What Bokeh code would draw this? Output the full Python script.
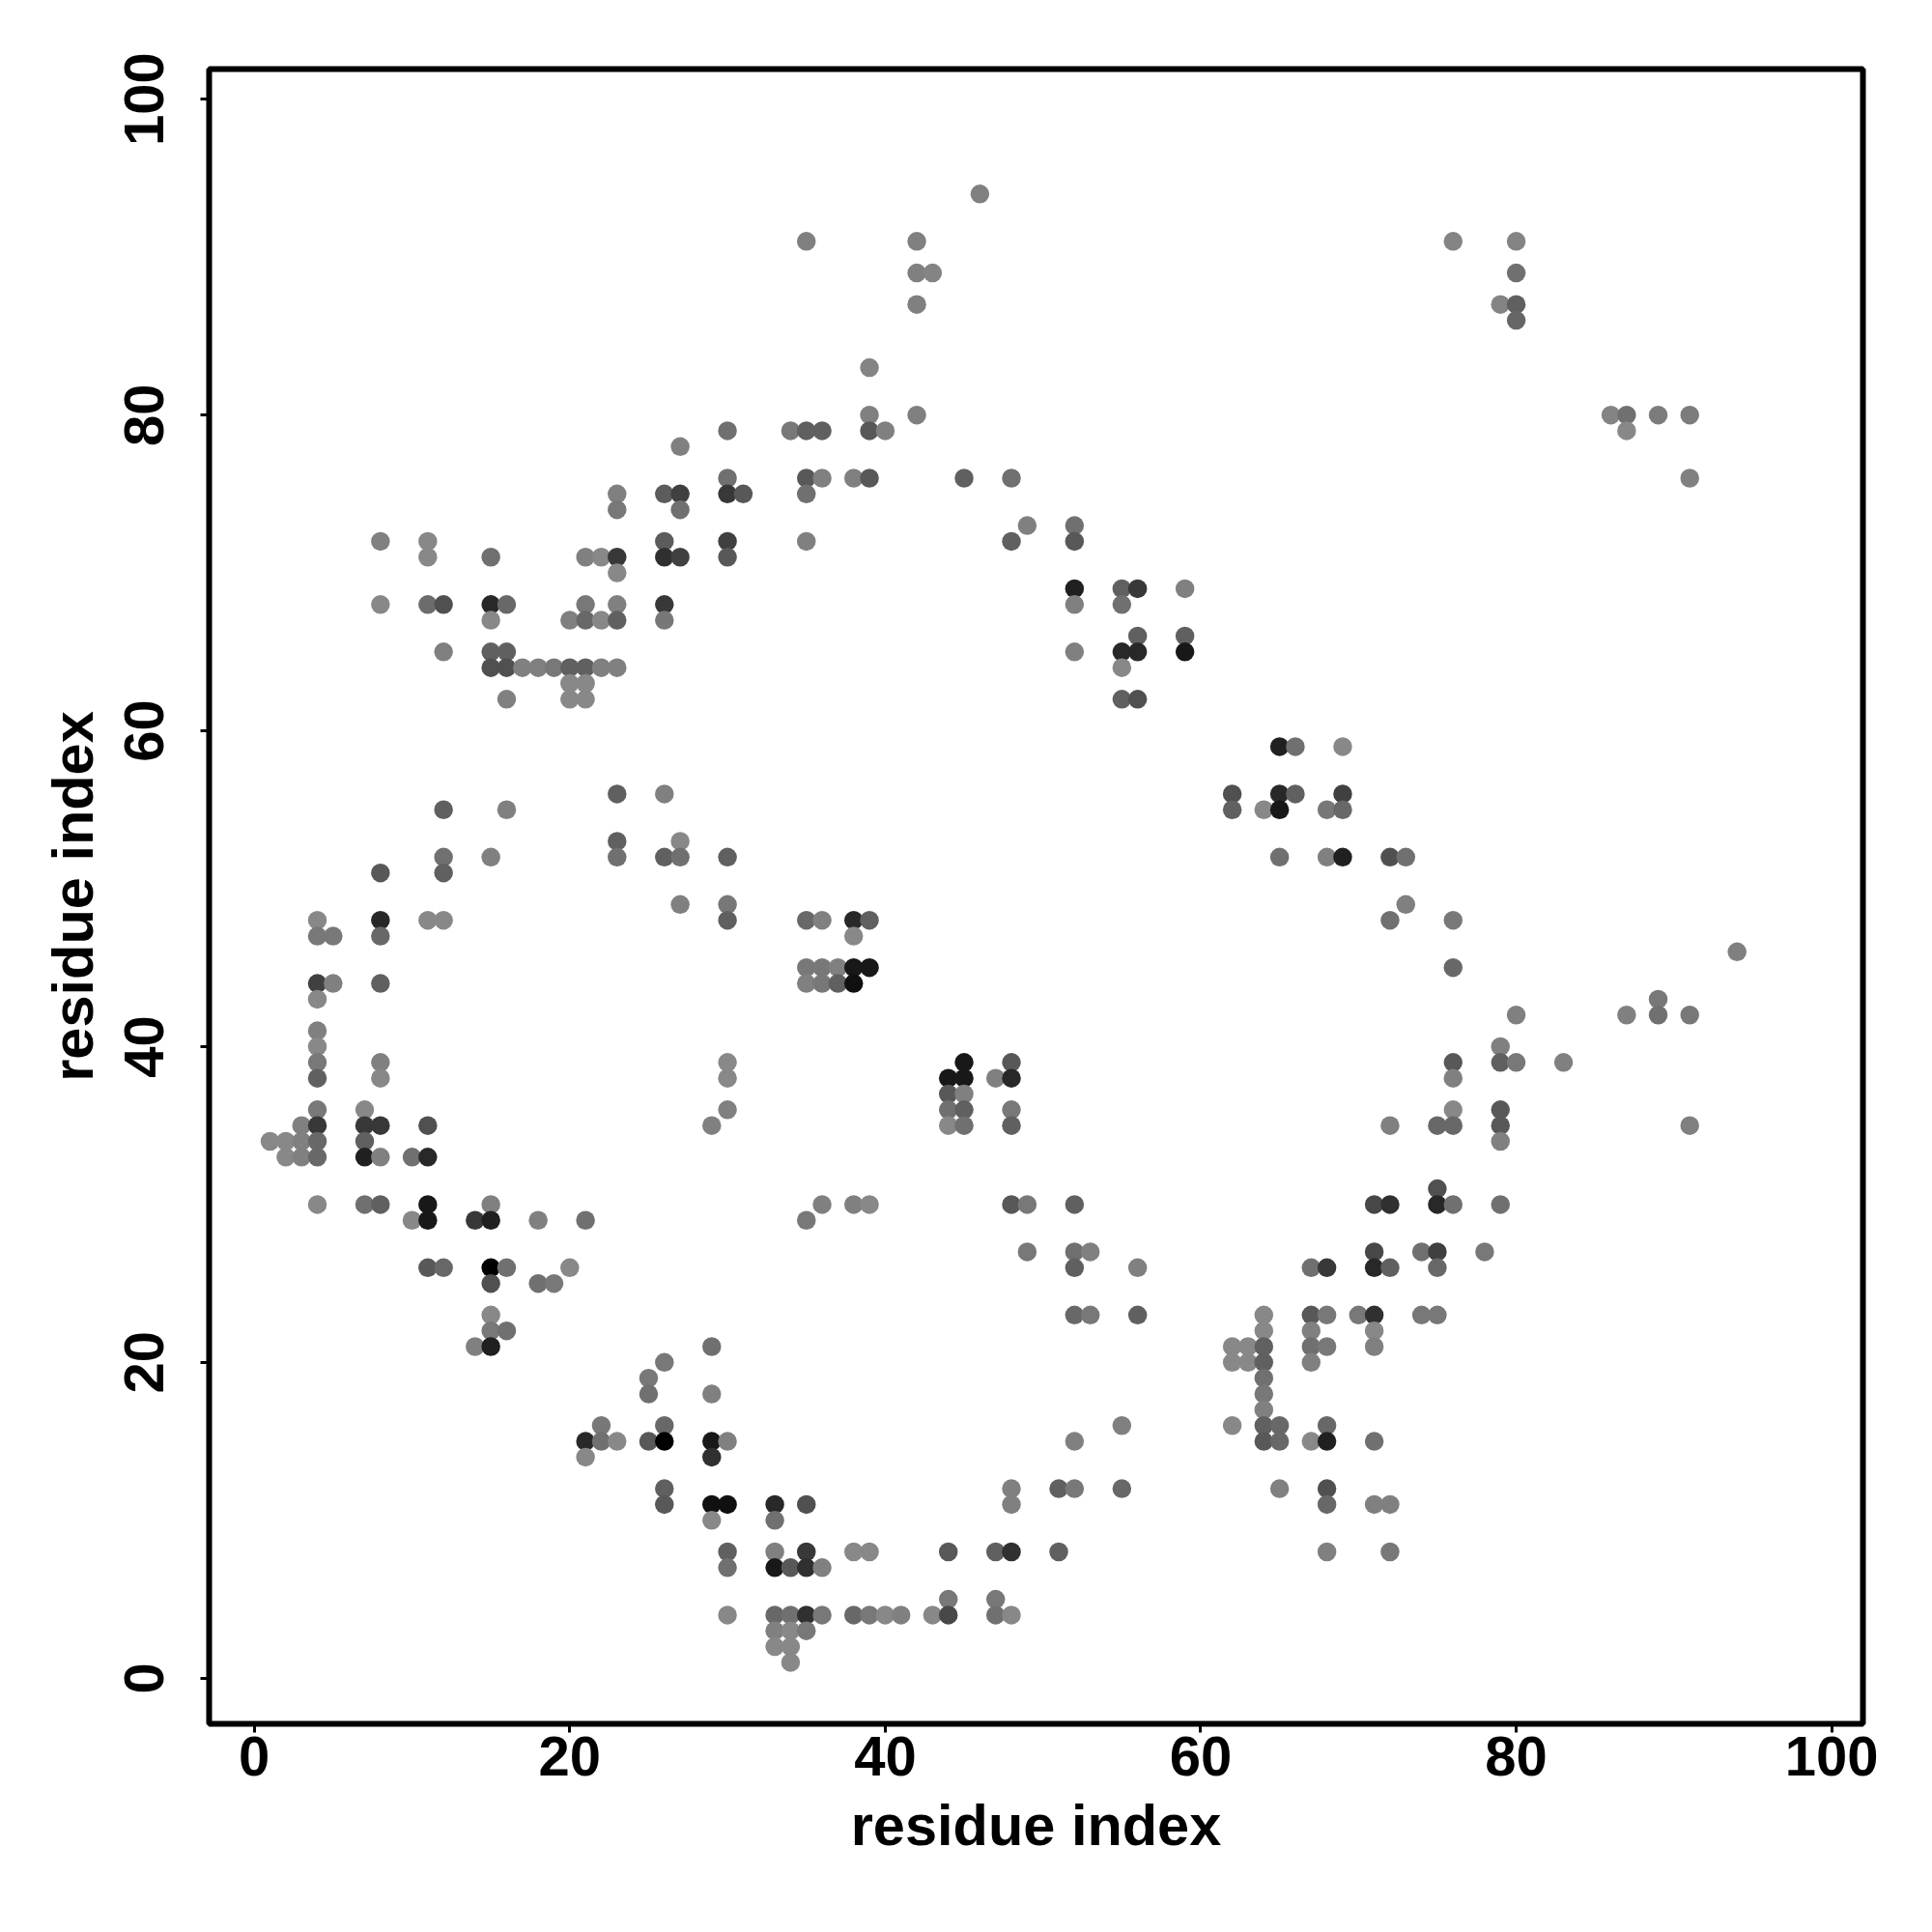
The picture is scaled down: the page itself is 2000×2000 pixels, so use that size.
from bokeh.plotting import figure
from bokeh.models import ColumnDataSource, Range1d, FixedTicker
from bokeh.embed import file_html
from bokeh.resources import INLINE

# Contacts listed row by row (y value), with x positions and grey levels.
y_rows = [94, 91, 89, 87, 86, 83, 80, 79, 78, 76, 75, 74, 73, 72, 71, 70, 69, 68, 67, 66, 65, 64, 63, 62,
          59, 56, 55, 53, 52, 51, 49, 48, 47, 46, 45, 44, 43, 42, 41, 40, 39, 38, 37, 36, 35, 34, 33, 31,
          30, 29, 27, 26, 25, 23, 22, 21, 20, 19, 18, 17, 16, 15, 14, 12, 11, 10, 8, 7, 5, 4, 3, 2, 1]
x_rows = [
    [46], [35, 42, 76, 80], [42, 43, 80], [42, 79, 80], [80], [39],
    [39, 42, 86, 87, 89, 91],
    [30, 34, 35, 36, 39, 40, 87],
    [27],
    [30, 35, 36, 38, 39, 45, 48, 91],
    [23, 26, 27, 30, 31, 35],
    [23, 27],
    [49, 52],
    [8, 11, 26, 30, 35, 48, 52],
    [11, 15, 21, 22, 23, 26, 27, 30],
    [23],
    [52, 55, 56, 59],
    [8, 11, 12, 15, 16, 21, 23, 26, 52, 55],
    [15, 20, 21, 22, 23, 26],
    [56, 59],
    [12, 15, 16, 52, 55, 56, 59],
    [15, 16, 17, 18, 19, 20, 21, 22, 23, 55],
    [20, 21],
    [16, 20, 21, 55, 56],
    [65, 66, 69],
    [23, 26, 62, 65, 66, 69],
    [12, 16, 62, 64, 65, 68, 69],
    [23, 27],
    [12, 15, 23, 26, 27, 30, 65, 68, 69, 72, 73],
    [8, 12],
    [27, 30, 73],
    [4, 8, 11, 12, 30, 35, 36, 38, 39, 72, 76],
    [4, 5, 8, 38],
    [94],
    [35, 36, 37, 38, 39, 76],
    [4, 5, 8, 35, 36, 37, 38],
    [4, 89],
    [80, 87, 89, 91],
    [4],
    [4, 79],
    [4, 8, 30, 45, 48, 76, 79, 80, 83],
    [4, 8, 30, 44, 45, 47, 48, 76],
    [44, 45],
    [4, 7, 30, 44, 45, 48, 76, 79],
    [3, 4, 7, 8, 11, 29, 44, 45, 48, 72, 75, 76, 79, 91],
    [1, 2, 3, 4, 7, 79],
    [2, 3, 4, 7, 8, 10, 11],
    [75],
    [4, 7, 8, 11, 15, 36, 38, 39, 48, 49, 52, 71, 72, 75, 76, 79],
    [10, 11, 14, 15, 18, 21, 35],
    [49, 52, 53, 71, 74, 75, 78],
    [11, 12, 15, 16, 20, 52, 56, 67, 68, 71, 72, 75],
    [15, 18, 19],
    [15, 52, 53, 56, 64, 67, 68, 70, 71, 74, 75],
    [15, 16, 64, 67, 71],
    [14, 15, 29, 62, 63, 64, 67, 68, 71],
    [26, 62, 63, 64, 67],
    [25, 64],
    [25, 29, 64],
    [64],
    [22, 26, 55, 62, 64, 65, 68],
    [21, 22, 23, 25, 26, 29, 30, 52, 64, 65, 67, 68, 71],
    [21, 29],
    [26, 48, 51, 52, 55, 65, 68],
    [26, 29, 30, 33, 35, 48, 68, 71, 72],
    [29, 33],
    [30, 33, 35, 38, 39, 44, 47, 48, 51, 68, 72],
    [30, 33, 34, 35, 36],
    [44, 47],
    [30, 33, 34, 35, 36, 38, 39, 40, 41, 43, 44, 47, 48],
    [33, 34, 35],
    [33, 34],
    [34],
]
grey_rows = [
    [0x80], [0x80, 0x80, 0x84, 0x84], [0x80, 0x84, 0x70], [0x80, 0x84, 0x60], [0x66], [0x84],
    [0x80, 0x80, 0x84, 0x70, 0x7c, 0x7c],
    [0x70, 0x78, 0x60, 0x60, 0x58, 0x80, 0x88],
    [0x80],
    [0x70, 0x58, 0x80, 0x80, 0x58, 0x60, 0x70, 0x80],
    [0x80, 0x5c, 0x40, 0x38, 0x58, 0x70],
    [0x78, 0x70],
    [0x80, 0x70],
    [0x80, 0x88, 0x5c, 0x40, 0x80, 0x60, 0x58],
    [0x88, 0x70, 0x80, 0x88, 0x38, 0x30, 0x40, 0x58],
    [0x88],
    [0x20, 0x60, 0x38, 0x80],
    [0x88, 0x6c, 0x50, 0x28, 0x68, 0x78, 0x80, 0x38, 0x80, 0x70],
    [0x88, 0x80, 0x68, 0x88, 0x60, 0x78],
    [0x60, 0x60],
    [0x80, 0x60, 0x60, 0x80, 0x28, 0x28, 0x18],
    [0x50, 0x50, 0x80, 0x80, 0x78, 0x60, 0x60, 0x80, 0x80, 0x88],
    [0x88, 0x88],
    [0x80, 0x88, 0x88, 0x60, 0x50],
    [0x20, 0x70, 0x88],
    [0x60, 0x80, 0x50, 0x28, 0x60, 0x40],
    [0x60, 0x80, 0x60, 0x88, 0x18, 0x78, 0x68],
    [0x60, 0x88],
    [0x70, 0x80, 0x70, 0x60, 0x70, 0x60, 0x70, 0x80, 0x20, 0x50, 0x70],
    [0x58, 0x60],
    [0x80, 0x78, 0x80],
    [0x88, 0x28, 0x88, 0x88, 0x60, 0x68, 0x80, 0x28, 0x60, 0x70, 0x78],
    [0x78, 0x78, 0x68, 0x88],
    [0x80],
    [0x78, 0x78, 0x80, 0x18, 0x18, 0x68],
    [0x40, 0x80, 0x60, 0x80, 0x78, 0x60, 0x10],
    [0x88, 0x78],
    [0x80, 0x80, 0x70, 0x78],
    [0x80],
    [0x88, 0x80],
    [0x78, 0x80, 0x88, 0x18, 0x58, 0x58, 0x60, 0x78, 0x80],
    [0x60, 0x88, 0x88, 0x18, 0x18, 0x80, 0x28, 0x80],
    [0x58, 0x80],
    [0x78, 0x88, 0x80, 0x70, 0x60, 0x78, 0x88, 0x58],
    [0x80, 0x38, 0x38, 0x38, 0x50, 0x80, 0x88, 0x70, 0x60, 0x80, 0x68, 0x68, 0x58, 0x80],
    [0x88, 0x88, 0x80, 0x68, 0x60, 0x80],
    [0x88, 0x80, 0x68, 0x20, 0x80, 0x70, 0x28],
    [0x50],
    [0x88, 0x70, 0x60, 0x18, 0x80, 0x80, 0x80, 0x88, 0x58, 0x78, 0x60, 0x48, 0x30, 0x28, 0x70, 0x70],
    [0x88, 0x18, 0x38, 0x20, 0x80, 0x70, 0x78],
    [0x78, 0x70, 0x80, 0x48, 0x70, 0x40, 0x78],
    [0x58, 0x68, 0x00, 0x70, 0x88, 0x60, 0x80, 0x70, 0x38, 0x28, 0x60, 0x68],
    [0x50, 0x70, 0x78],
    [0x88, 0x68, 0x78, 0x60, 0x88, 0x58, 0x78, 0x78, 0x30, 0x78, 0x78],
    [0x78, 0x70, 0x88, 0x80, 0x88],
    [0x80, 0x20, 0x70, 0x88, 0x88, 0x60, 0x70, 0x78, 0x80],
    [0x78, 0x88, 0x88, 0x60, 0x80],
    [0x78, 0x70],
    [0x70, 0x80, 0x78],
    [0x80],
    [0x78, 0x68, 0x80, 0x88, 0x60, 0x68, 0x68],
    [0x28, 0x70, 0x88, 0x58, 0x00, 0x18, 0x80, 0x80, 0x58, 0x68, 0x88, 0x20, 0x70],
    [0x88, 0x30],
    [0x60, 0x80, 0x60, 0x78, 0x68, 0x80, 0x50],
    [0x58, 0x10, 0x10, 0x28, 0x50, 0x80, 0x68, 0x80, 0x80],
    [0x88, 0x70],
    [0x60, 0x80, 0x38, 0x88, 0x88, 0x58, 0x60, 0x30, 0x60, 0x80, 0x78],
    [0x70, 0x18, 0x58, 0x30, 0x80],
    [0x78, 0x78],
    [0x88, 0x68, 0x70, 0x30, 0x78, 0x68, 0x78, 0x88, 0x80, 0x88, 0x48, 0x70, 0x88],
    [0x80, 0x88, 0x78],
    [0x88, 0x88],
    [0x88],
]
tick_values = [0, 20, 40, 60, 80, 100]
x_title = "residue index"
y_title = "residue index"

xs, ys, colors = [], [], []
for yv, row_x, row_g in zip(y_rows, x_rows, grey_rows):
    assert len(row_x) == len(row_g), yv
    for xv, g in zip(row_x, row_g):
        xs.append(xv)
        ys.append(yv)
        colors.append("#%02x%02x%02x" % (g, g, g))

p = figure(width=1984, height=1984, output_backend="svg", toolbar_location=None,
           x_range=Range1d(-2.86, 101.98), y_range=Range1d(-2.89, 101.91),
           min_border_left=216, min_border_right=56, min_border_top=71, min_border_bottom=200,
           background_fill_color="white", border_fill_color="white")
p.grid.visible = False
p.outline_line_color = "black"
p.outline_line_width = 6
p.outline_line_alpha = 1

p.scatter(x="x", y="y", color="color", source=ColumnDataSource(dict(x=xs, y=ys, color=colors)),
          marker="circle", size=19.5, line_color=None)

for ax, title in ((p.xaxis[0], x_title), (p.yaxis[0], y_title)):
    ax.ticker = FixedTicker(ticks=tick_values)
    ax.axis_line_color = None
    ax.major_tick_line_color = "black"
    ax.major_tick_line_width = 3
    ax.major_tick_out = 9
    ax.major_tick_in = 0
    ax.minor_tick_line_color = None
    ax.major_label_text_font = "Liberation Sans"
    ax.major_label_text_font_style = "bold"
    ax.major_label_text_font_size = "58px"
    ax.major_label_text_color = "black"
    ax.axis_label = title
    ax.axis_label_text_font = "Liberation Sans"
    ax.axis_label_text_font_style = "bold"
    ax.axis_label_text_font_size = "59.5px"
    ax.axis_label_text_color = "black"

p.yaxis[0].major_label_orientation = "vertical"
p.xaxis[0].major_label_standoff = 4
p.yaxis[0].major_label_standoff = 38
p.xaxis[0].axis_label_standoff = 15
p.yaxis[0].axis_label_standoff = 18

open("out.html", "w").write(file_html(p, INLINE))
